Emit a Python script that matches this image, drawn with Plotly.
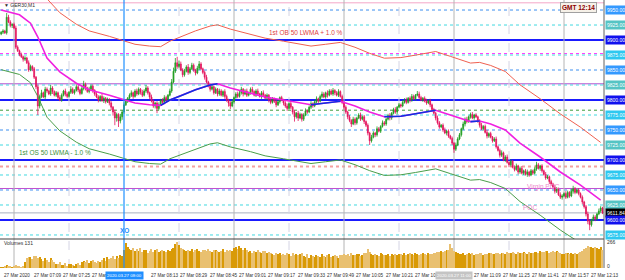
import plotly.graph_objects as go

# ---------------- data (GER30, M1, 27 Mar 2020, minutes since 06:53) ----------------
first_open = 9910.0
closes = [
    9913, 9915, 9912, 9938, 9930, 9924, 9926, 9920, 9888, 9882,
    9876, 9872, 9868, 9870, 9862, 9850, 9856, 9852, 9838, 9822,
    9790, 9806, 9812, 9805, 9818, 9815, 9810, 9820, 9814, 9808,
    9812, 9804, 9800, 9808, 9815, 9810, 9806, 9813, 9818, 9812,
    9816, 9822, 9817, 9811, 9819, 9826, 9820, 9814, 9818, 9823,
    9816, 9810, 9805, 9800, 9806, 9799, 9803, 9797, 9801, 9795,
    9788, 9780, 9770, 9776, 9765, 9772, 9780, 9792, 9798, 9803,
    9808, 9812, 9806, 9815, 9810, 9818, 9813, 9808, 9815, 9820,
    9812, 9805, 9798, 9790, 9795, 9786, 9792, 9800, 9796, 9804,
    9800, 9808, 9815, 9830, 9848, 9862, 9856, 9860, 9850, 9842,
    9848, 9855, 9846, 9852, 9858, 9850, 9845, 9853, 9860, 9852,
    9846, 9838, 9830, 9824, 9818, 9822, 9812, 9818, 9810, 9815,
    9808, 9814, 9806, 9800, 9795, 9790, 9797, 9804, 9810, 9806,
    9812, 9818, 9810, 9815, 9808, 9812, 9818, 9814, 9808, 9815,
    9810, 9806, 9812, 9808, 9803, 9808, 9800, 9796, 9802, 9798,
    9792, 9797, 9804, 9800, 9795, 9790, 9786, 9794, 9788, 9780,
    9772, 9778, 9770, 9776, 9768, 9775, 9782, 9780, 9788, 9794,
    9790, 9797, 9802, 9798, 9806, 9810, 9805, 9812, 9808, 9815,
    9810, 9816, 9812, 9808, 9814, 9806, 9796, 9788, 9780, 9772,
    9766, 9760, 9768, 9762, 9770, 9775, 9768, 9772, 9764, 9758,
    9745, 9732, 9738, 9745, 9742, 9752, 9748, 9756, 9762, 9760,
    9768, 9774, 9770, 9778, 9784, 9780, 9788, 9792, 9790, 9796,
    9800, 9796, 9803, 9800, 9806, 9802, 9808, 9810, 9804, 9800,
    9803, 9798, 9795, 9799, 9792, 9784, 9778, 9770, 9762, 9755,
    9758, 9750, 9745, 9748, 9740, 9736, 9728, 9718, 9725, 9735,
    9742, 9752, 9760, 9768, 9764, 9772, 9776, 9770, 9775, 9772,
    9765, 9758, 9752, 9756, 9746, 9740, 9744, 9738, 9732, 9735,
    9722, 9716, 9708, 9712, 9700, 9705, 9696, 9692, 9698, 9688,
    9684, 9690, 9680, 9686, 9678, 9682, 9676, 9680, 9675, 9682,
    9678, 9685, 9692, 9686, 9690, 9682, 9676, 9670, 9672, 9664,
    9660, 9655, 9648, 9652, 9642, 9638, 9640, 9644, 9638, 9646,
    9640, 9648, 9652, 9646, 9650, 9644, 9638, 9630, 9622, 9610,
    9598, 9592, 9600, 9605, 9602, 9610, 9615, 9620, 9611.84,
]
wick_up = [
    2, 3, 2, 7, 4, 3, 2, 3, 4, 3,
    2, 3, 2, 3, 2, 4, 3, 2, 3, 2,
    4, 3, 5, 2, 4, 3, 2, 5, 3, 2,
    3, 2, 4, 3, 2, 4, 3, 2, 5, 3,
    2, 4, 3, 2, 5, 6, 3, 2, 4, 3,
    3, 2, 4, 3, 2, 4, 3, 2, 3, 2,
    3, 2, 4, 3, 2, 5, 3, 4, 3, 2,
    3, 4, 2, 3, 4, 3, 2, 4, 3, 5,
    3, 2, 4, 3, 2, 3, 4, 2, 3, 4,
    3, 2, 4, 5, 6, 8, 10, 6, 4, 3,
    4, 3, 5, 3, 4, 3, 2, 4, 5, 3,
    2, 3, 4, 2, 3, 4, 2, 3, 2, 4,
    3, 2, 4, 3, 2, 3, 4, 2, 3, 4,
    3, 4, 2, 3, 4, 2, 3, 4, 2, 3,
    4, 2, 3, 4, 2, 3, 2, 4, 3, 2,
    3, 4, 2, 3, 2, 3, 4, 2, 3, 2,
    3, 2, 4, 3, 2, 3, 4, 2, 3, 4,
    2, 3, 4, 2, 3, 4, 3, 2, 4, 3,
    3, 4, 2, 3, 4, 2, 3, 2, 3, 2,
    3, 2, 4, 3, 2, 3, 4, 2, 3, 2,
    3, 2, 4, 3, 2, 4, 3, 2, 4, 3,
    2, 3, 4, 2, 3, 4, 2, 3, 2, 4,
    3, 4, 2, 3, 4, 3, 2, 5, 4, 3,
    2, 3, 4, 2, 3, 2, 3, 2, 4, 3,
    2, 3, 4, 2, 3, 2, 3, 2, 4, 3,
    3, 2, 4, 3, 4, 2, 3, 4, 2, 3,
    2, 3, 4, 2, 3, 4, 2, 3, 2, 3,
    4, 2, 3, 4, 2, 3, 4, 2, 3, 2,
    3, 4, 2, 3, 4, 2, 3, 4, 2, 3,
    2, 3, 5, 3, 2, 3, 2, 4, 3, 2,
    3, 2, 4, 3, 2, 4, 3, 2, 4, 3,
    2, 4, 5, 3, 2, 3, 2, 3, 2, 3,
    4, 3, 2, 4, 3, 2, 4, 3, 2,
]
wick_dn = [
    2, 3, 2, 3, 2, 3, 4, 2, 3, 2,
    3, 2, 4, 3, 2, 3, 2, 4, 3, 4,
    15, 4, 3, 2, 4, 3, 2, 3, 4, 2,
    3, 4, 2, 3, 2, 4, 3, 2, 3, 2,
    3, 2, 4, 3, 2, 3, 4, 2, 3, 2,
    4, 3, 2, 4, 3, 2, 4, 3, 2, 4,
    5, 6, 12, 6, 10, 4, 5, 3, 2, 3,
    2, 3, 4, 2, 3, 2, 4, 3, 2, 3,
    3, 4, 2, 3, 4, 8, 3, 2, 4, 3,
    2, 3, 2, 3, 2, 3, 4, 3, 2, 4,
    3, 2, 4, 3, 2, 3, 4, 2, 3, 2,
    3, 4, 2, 3, 4, 2, 3, 2, 4, 3,
    2, 3, 4, 3, 6, 5, 2, 3, 2, 3,
    2, 3, 4, 2, 3, 2, 3, 4, 2, 3,
    3, 2, 4, 3, 2, 3, 4, 3, 2, 3,
    4, 2, 3, 2, 4, 3, 4, 2, 3, 4,
    8, 3, 5, 2, 4, 3, 2, 3, 2, 3,
    3, 2, 3, 4, 2, 3, 2, 3, 4, 2,
    2, 3, 4, 2, 3, 2, 3, 4, 3, 4,
    3, 5, 2, 4, 3, 2, 3, 2, 4, 3,
    4, 7, 3, 2, 4, 3, 2, 3, 2, 3,
    3, 2, 4, 3, 2, 3, 4, 2, 3, 2,
    2, 3, 2, 4, 3, 2, 3, 2, 3, 2,
    3, 2, 3, 2, 4, 3, 2, 4, 3, 3,
    2, 3, 2, 4, 3, 2, 3, 6, 3, 2,
    2, 3, 2, 4, 3, 2, 3, 2, 3, 2,
    3, 4, 2, 3, 2, 4, 3, 2, 3, 2,
    3, 2, 4, 3, 2, 3, 2, 4, 3, 2,
    3, 2, 4, 3, 2, 3, 2, 4, 3, 2,
    3, 2, 3, 2, 4, 3, 2, 3, 2, 4,
    3, 2, 4, 3, 2, 3, 4, 2, 3, 2,
    3, 2, 4, 3, 2, 3, 2, 4, 3, 4,
    5, 9, 3, 2, 4, 3, 2, 3, 2,
]
volumes = [
    5, 8, 12, 30, 20, 10, 8, 12, 25, 15, 10, 8, 14,
    60, 95, 110, 105, 90, 115, 120, 100, 112, 85, 70, 95, 80, 60, 100, 75, 55,
    40, 35, 55, 30, 25, 45, 20, 35, 40, 28, 22, 35, 45, 30,
    55, 70, 60, 80, 50, 65, 75, 60, 45, 70, 55,
    80, 95, 70, 110, 90, 100, 115, 85, 120, 95,
    130, 120, 180, 245, 210,
    190, 175, 200, 165, 185, 170, 195, 160, 180, 175,
    150, 170, 185, 160, 175, 190, 155, 170, 180, 165, 160, 175, 170, 185, 200,
    240, 255, 230, 200, 185, 175,
    165, 180, 170, 190, 160, 175, 185, 170, 160, 180, 175, 165, 185, 170,
    160, 175, 180, 165, 155, 170, 185, 160, 175, 165, 180, 170, 195, 210,
    190, 215, 200, 180, 195, 175,
    160, 170, 150, 165, 155, 175, 160, 150, 165, 170, 145, 160, 150,
    140, 130, 150, 135, 145, 125, 140, 130, 150, 135, 120, 145, 130, 140, 125, 135, 150,
    120, 110, 135, 100, 125, 115, 105, 130, 120, 110, 140, 115, 105, 125, 135, 110, 120, 130, 115, 100, 125,
    130, 140, 125, 135, 120, 145, 130, 125, 140, 135, 120, 130, 150, 145, 190, 160,
    135, 125, 140, 130, 120, 145, 135, 125, 130, 140, 120, 135, 125, 140, 130, 135,
    140, 130, 145, 125, 135, 150, 140, 130, 145, 135, 125, 140, 150, 135, 130, 145, 140, 135, 150, 145, 155,
    160, 170, 155, 165, 175, 180, 235, 200, 170, 160,
    150, 140, 135, 145, 130, 140, 150, 135, 145, 130, 140, 135, 150, 145, 130, 140, 135, 145, 150, 140, 135, 145, 150, 140,
    145, 150, 140, 155, 145, 150, 160, 145, 140, 155, 150, 145, 160, 150, 140, 155, 145, 150, 160, 155, 150, 165,
    160, 155, 170, 165, 150, 160, 170, 155, 165, 160, 150,
    140, 135, 150, 145, 140, 150, 135, 145, 140, 150, 155,
    170, 190, 200, 215, 210, 205, 195, 210, 200, 190, 205, 180,
]

# 50 LWMA (read every few minutes) and its +/-1.0 % envelopes
ma_min = [0, 10, 16, 20, 25, 32, 41, 48, 59, 67, 73, 81, 87, 92, 98, 106, 114, 118, 125, 136,
          144, 154, 163, 169, 177, 185, 193, 201, 209, 218, 226, 237, 245, 253, 256, 261, 267, 275, 283, 294,
          305, 316, 327]
ma_vals = [9950, 9942, 9928, 9905, 9870, 9847, 9828, 9817, 9808, 9800, 9795, 9792, 9791, 9800, 9807, 9817, 9825, 9827, 9820, 9812,
           9805, 9800, 9795, 9792, 9795, 9798, 9790, 9780, 9772, 9773, 9777, 9783, 9775, 9767, 9764, 9765, 9760, 9750, 9728, 9705,
           9680, 9658, 9633]
ob_vals = [10049.5, 10041.4, 10027.3, 10004.1, 9968.7, 9945.5, 9926.3, 9915.2, 9906.1, 9898.0, 9892.9, 9889.9, 9888.9, 9898.0,
           9905.1, 9915.2, 9923.3, 9925.3, 9918.2, 9910.1, 9903.1, 9898.0, 9892.9, 9889.9, 9892.9, 9896.0, 9887.9, 9877.8,
           9869.7, 9870.7, 9874.8, 9880.8, 9872.8, 9864.7, 9861.6, 9862.7, 9857.6, 9847.5, 9825.3, 9802.1, 9776.8, 9754.6, 9729.3]
os_vals = [9850.5, 9842.6, 9828.7, 9805.9, 9771.3, 9748.5, 9729.7, 9718.8, 9709.9, 9702.0, 9697.1, 9694.1, 9693.1, 9702.0,
           9708.9, 9718.8, 9726.8, 9728.7, 9721.8, 9713.9, 9706.9, 9702.0, 9697.1, 9694.1, 9697.1, 9700.0, 9692.1, 9682.2,
           9674.3, 9675.3, 9679.2, 9685.2, 9677.3, 9669.3, 9666.4, 9667.4, 9662.4, 9652.5, 9630.7, 9608.0, 9583.2, 9561.4, 9536.7]

# horizontal levels
level_prices = [9962, 9950, 9925, 9900, 9877.5, 9875, 9850, 9827, 9825, 9800, 9783, 9775, 9750, 9725,
                9700, 9689, 9675, 9652.5, 9650, 9625, 9611.84, 9600, 9575]
level_colors = ["#f4a6c8", "#3d8ff0", "#40d8e0", "#1a1aff", "#ff40ff", "#40d8e0", "#3d8ff0", "#b050d0", "#40d8e0",
                "#1a1aff", "#3a9a3a", "#40d8e0", "#3d8ff0", "#40d8e0", "#1a1aff", "#f4a0a0", "#40d8e0", "#c050d0",
                "#3d8ff0", "#40d8e0", "#a8b0c0", "#1a1aff", "#40d8e0"]
level_dash = ["solid", "dot", "dot", "solid", "dot", "dot", "dot", "solid", "dot", "solid", "dot", "dot", "dot", "dot",
              "solid", "dot", "dot", "solid", "dot", "dot", "solid", "solid", "dot"]
level_width = [1, 1, 1, 2, 1, 1, 1, 1, 1, 2, 1, 1, 1, 1, 2, 2, 1, 1, 1, 1, 1, 2, 1]

# price labels on right scale
scale_prices = [9950, 9925, 9900, 9875, 9850, 9825, 9800, 9775, 9750, 9725, 9700, 9675, 9650, 9625, 9611.84, 9600, 9575]
scale_colors = ["#3399ff", "#55c4c4", "#1010ee", "#2ec8f0", "#3399ff", "#55c4c4", "#1010ee", "#2ec8f0", "#3399ff",
                "#55c4c4", "#1010ee", "#2ec8f0", "#3399ff", "#55c4c4", "#000000", "#1010ee", "#2ec8f0"]

# time axis (labels partly hidden behind the date boxes are shown as they appear)
tick_min = [0, 16, 32, 48, 80, 96, 112, 128, 144, 160, 176, 192, 208, 224, 256, 272, 288, 304, 320]
tick_text = ["27 Mar 2020", "27 Mar 07:09", "27 Mar 07:25", "27 Mar", "27 Mar 08:13", "27 Mar 08:29",
             "27 Mar 08:45", "27 Mar 09:01", "27 Mar 09:17", "27 Mar 09:33", "27 Mar 09:49", "27 Mar 10:05",
             "27 Mar 10:21", "27 Mar 10:", "27 Mar 11:09", "27 Mar 11:25", "27 Mar 11:41", "27 Mar 11:57",
             "27 Mar 12:13"]
hour_min = [7, 127, 187, 247, 307]
half_min = [37, 97, 157, 217, 277]
cross_min = 67
cross_text = "2020.03.27 08:00"
grey_min = 247
grey_text = "2020.03.27 11:00"

# ---------------- build ----------------
n = len(closes)
minutes = list(range(n))
opens = [first_open] + closes[:-1]
highs = [max(o, c) + u for o, c, u in zip(opens, closes, wick_up)]
lows = [min(o, c) - d for o, c, d in zip(opens, closes, wick_dn)]
vol_colors = ["#d99a06" if c >= o else "#e9c070" for o, c in zip(opens, closes)]

XR = [-0.64, 328.82]
Y_MAIN = [9568.3, 9966.7]
PH = 268.0
main_dom = [(PH - 239) / PH, 1.0]
vol_dom = [0.0, (PH - 240) / PH]
FONT = "Liberation Sans"

fig = go.Figure()

fig.add_trace(go.Scatter(x=ma_min, y=ob_vals, mode="lines", line=dict(color="#f06050", width=1),
                         xaxis="x", yaxis="y", hoverinfo="skip", showlegend=False))
fig.add_trace(go.Scatter(x=ma_min, y=os_vals, mode="lines", line=dict(color="#4a9e4a", width=1),
                         xaxis="x", yaxis="y", hoverinfo="skip", showlegend=False))

fig.add_trace(go.Candlestick(
    x=minutes, open=opens, high=highs, low=lows, close=closes, xaxis="x", yaxis="y",
    increasing=dict(line=dict(color="#1f9d1f", width=0.8), fillcolor="#1f9d1f"),
    decreasing=dict(line=dict(color="#e3125c", width=0.8), fillcolor="#e3125c"),
    whiskerwidth=0, showlegend=False, hoverinfo="skip"))

fig.add_trace(go.Scatter(x=ma_min, y=ma_vals, mode="lines", line=dict(color="#f020e0", width=1.6),
                         xaxis="x", yaxis="y", hoverinfo="skip", showlegend=False))
bx, by = [], []
for i in range(len(ma_vals) - 1):
    if ma_vals[i + 1] > ma_vals[i]:
        if bx and bx[-1] == ma_min[i]:
            bx.append(ma_min[i + 1]); by.append(ma_vals[i + 1])
        else:
            bx += [None, ma_min[i], ma_min[i + 1]]; by += [None, ma_vals[i], ma_vals[i + 1]]
fig.add_trace(go.Scatter(x=bx, y=by, mode="lines", line=dict(color="#1030e0", width=1.6), connectgaps=False,
                         xaxis="x", yaxis="y", hoverinfo="skip", showlegend=False))

fig.add_trace(go.Bar(x=minutes, y=volumes, marker=dict(color=vol_colors, line=dict(width=0)), width=0.6,
                     xaxis="x2", yaxis="y2", hoverinfo="skip", showlegend=False))

shapes = []
for p, c, d, w in zip(level_prices, level_colors, level_dash, level_width):
    shapes.append(dict(type="line", xref="x domain", x0=0, x1=1, yref="y", y0=p, y1=p,
                       line=dict(color=c, dash=d, width=w), layer="below"))
for m in hour_min:
    shapes.append(dict(type="line", xref="x", x0=m, x1=m, yref="paper", y0=0, y1=1,
                       line=dict(color="#b4b4b4", width=1), layer="below"))
for m in half_min:
    shapes.append(dict(type="line", xref="x", x0=m, x1=m, yref="paper", y0=0, y1=1,
                       line=dict(color="#d4d4e4", width=1, dash="dash"), layer="below"))
shapes.append(dict(type="line", xref="x", x0=cross_min, x1=cross_min, yref="paper", y0=0, y1=1,
                   line=dict(color="#1e8fff", width=1.2)))
shapes.append(dict(type="line", xref="paper", x0=0, x1=1, yref="paper", y0=main_dom[0], y1=main_dom[0],
                   line=dict(color="#404040", width=1.2)))
shapes.append(dict(type="line", xref="paper", x0=1, x1=1, yref="paper", y0=0, y1=1,
                   line=dict(color="#606060", width=1)))

ann = []
for p, c in zip(scale_prices, scale_colors):
    ann.append(dict(x=1, xref="paper", xanchor="left", xshift=1, y=p, yref="y", yanchor="middle",
                    text=f"{p:.2f}", showarrow=False, bgcolor=c, borderpad=1,
                    font=dict(size=5, color="white", family=FONT)))
for m, t in zip(tick_min, tick_text):
    ann.append(dict(x=m, xref="x2", xanchor="left", xshift=1, y=-7 / PH, yref="paper", yanchor="middle",
                    text=t, showarrow=False, font=dict(size=4.6, color="#303030", family=FONT)))
ann.append(dict(x=cross_min, xref="x2", xanchor="center", y=-7 / PH, yref="paper", yanchor="middle",
                text=cross_text, showarrow=False, bgcolor="#1e8fff", borderpad=1,
                font=dict(size=4.4, color="white", family=FONT)))
ann.append(dict(x=grey_min, xref="x2", xanchor="center", y=-7 / PH, yref="paper", yanchor="middle",
                text=grey_text, showarrow=False, bgcolor="#c4c4c4", borderpad=1,
                font=dict(size=4.4, color="white", family=FONT)))
ann.append(dict(x=1, xref="paper", xanchor="left", xshift=1, y=(PH - 242) / PH, yref="paper", yanchor="middle",
                text="266", showarrow=False, font=dict(size=5, color="#303030", family=FONT)))
ann.append(dict(x=1, xref="paper", xanchor="left", xshift=1, y=(PH - 266) / PH, yref="paper", yanchor="middle",
                text="0", showarrow=False, font=dict(size=5, color="#303030", family=FONT)))
ann.append(dict(x=0, xref="paper", xanchor="left", xshift=2, y=(PH - 243) / PH, yref="paper", yanchor="middle",
                text="Volumes 131", showarrow=False, font=dict(size=5, color="#303030", family=FONT)))
ann.append(dict(x=0, xref="paper", xanchor="left", xshift=2, y=(PH - 5) / PH, yref="paper", yanchor="middle",
                text="▼ GER30,M1", showarrow=False, font=dict(size=5, color="#303030", family=FONT)))
ann.append(dict(x=578.5 / 604, xref="paper", xanchor="center", y=(PH - 8) / PH, yref="paper", yanchor="middle",
                text="<b>GMT 12:14</b>", showarrow=False, bgcolor="#f6f1e8", bordercolor="#a0a0a0", borderwidth=1,
                borderpad=1, font=dict(size=6.5, color="#8b0000", family=FONT)))
ann.append(dict(x=166.3, xref="x", y=9911.7, yref="y", text="1st OB 50 LWMA + 1.0 %", showarrow=False,
                font=dict(size=6.5, color="#e04040", family=FONT)))
ann.append(dict(x=29.4, xref="x", y=9711.7, yref="y", text="1st OS 50 LWMA - 1.0 %", showarrow=False,
                font=dict(size=6.5, color="#3a8f3a", family=FONT)))
ann.append(dict(x=295.6, xref="x", y=9655, yref="y", text="Virgin POC", showarrow=False,
                font=dict(size=6.5, color="#ee88cc", family=FONT)))
ann.append(dict(x=288.5, xref="x", y=9620, yref="y", text="POC", showarrow=False,
                font=dict(size=6.5, color="#ee88cc", family=FONT)))
ann.append(dict(x=67, xref="x", y=9581.7, yref="y", text="<b>XO</b>", showarrow=False,
                font=dict(size=6.5, color="#1e8fff", family=FONT)))

fig.update_layout(
    width=625, height=280, margin=dict(l=0, r=21, t=0, b=12),
    paper_bgcolor="white", plot_bgcolor="white", showlegend=False,
    xaxis=dict(domain=[0, 1], range=XR, anchor="y", visible=False, rangeslider=dict(visible=False)),
    yaxis=dict(domain=main_dom, range=Y_MAIN, visible=False),
    xaxis2=dict(domain=[0, 1], range=XR, anchor="y2", visible=False, matches="x"),
    yaxis2=dict(domain=vol_dom, range=[0, 276], visible=False),
    shapes=shapes, annotations=ann, bargap=0,
)

fig.write_html("out.html")
